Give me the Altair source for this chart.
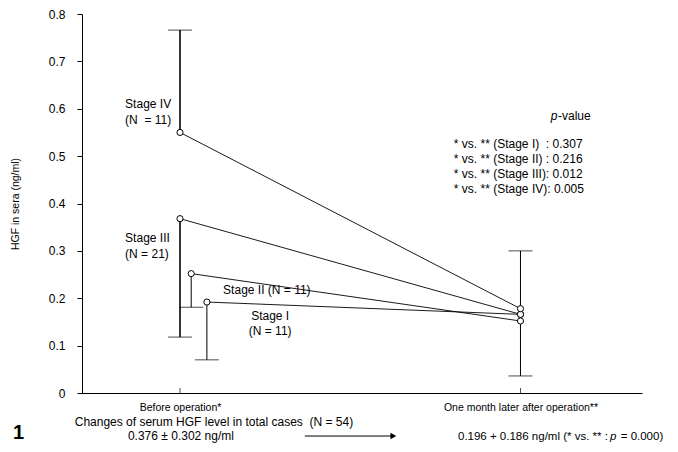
import altair as alt
import pandas as pd

FONT = "Liberation Sans"
NB = "\u00a0"

# ---- data ----
stages = ["Stage I", "Stage II", "Stage III", "Stage IV"]
before_x = [22.3, 19.5, 17.5, 17.5]
before_y = [0.192, 0.252, 0.368, 0.550]
after_x = [78.3, 78.3, 78.3, 78.3]
after_y = [0.166, 0.152, 0.166, 0.178]

# whiskers (vertical error lines)
err_x = [17.5, 17.5, 19.5, 22.3, 78.3]
err_lo = [0.550, 0.118, 0.181, 0.070, 0.036]
err_hi = [0.766, 0.368, 0.252, 0.192, 0.300]
err_w = [1.6, 1.6, 1.0, 1.0, 1.0]
# caps
cap_x = [17.5, 17.5, 19.5, 22.3, 78.3, 78.3]
cap_y = [0.766, 0.118, 0.181, 0.070, 0.036, 0.300]
cap_w = [1.6, 1.6, 1.0, 1.0, 1.0, 1.0]

y_ticks = [0, 0.1, 0.2, 0.3, 0.4, 0.5, 0.6, 0.7, 0.8]
x_ticks = [17.5, 78.3]
x_labels = ["Before operation*", "One month later after operation**"]

# annotation texts (data coordinates)
ann_text = ["Stage IV", "(N" + NB + " = 11)", "Stage III", "(N = 21)", "Stage II (N = 11)"]
ann_x = [7.7, 7.7, 7.7, 7.7, 25.2]
ann_y = [0.609, 0.577, 0.328, 0.294, 0.217]

ann_c_text = ["Stage I", "(N = 11)"]
ann_c_x = [33.6, 33.6]
ann_c_y = [0.162, 0.131]

p_lines = ["* vs. ** (Stage I)" + NB + NB + ": 0.307",
           "* vs. ** (Stage II)" + NB + ": 0.216",
           "* vs. ** (Stage III): 0.012",
           "* vs. ** (Stage IV): 0.005"]
p_x = [66.4, 66.4, 66.4, 66.4]
p_y = [0.525, 0.494, 0.462, 0.431]

# p-value header
head_x = [85.0]
head_y = [0.584]

# bottom notes (alphabetic baseline)
note_text = ["Changes of serum HGF level in total cases" + NB + NB + "(N = 54)",
             "0.376 \u00b1 0.302 ng/ml"]
note_x = [-1.3, 8.2]
note_y = [-0.0697, -0.0992]

note_r_text = ["0.196 + 0.186 ng/ml (* vs. ** :", "= 0.000)"]
note_r_x = [67.14, 96.2]
note_r_y = [-0.0992, -0.0992]
p_bottom_x = [94.3]
p_bottom_y = [-0.0992]

arrow_x1 = [39.8]
arrow_x2 = [55.6]
arrow_y = [-0.0908]

fig_num_x = [-12.3]
fig_num_y = [-0.0971]

# ---- tables ----
lines_df = pd.DataFrame({
    "stage": stages + stages,
    "x": before_x + after_x,
    "y": before_y + after_y,
})
err_df = pd.DataFrame({"x": err_x, "lo": err_lo, "hi": err_hi, "w": err_w})
cap_df = pd.DataFrame({"x": cap_x, "y": cap_y, "w": cap_w})
ann_df = pd.DataFrame({"t": ann_text, "x": ann_x, "y": ann_y})
annc_df = pd.DataFrame({"t": ann_c_text, "x": ann_c_x, "y": ann_c_y})
p_df = pd.DataFrame({"t": p_lines, "x": p_x, "y": p_y})
head_p_df = pd.DataFrame({"t": ["p"], "x": head_x, "y": head_y})
head_v_df = pd.DataFrame({"t": ["-value"], "x": head_x, "y": head_y})
note_df = pd.DataFrame({"t": note_text, "x": note_x, "y": note_y})
note_r_df = pd.DataFrame({"t": note_r_text, "x": note_r_x, "y": note_r_y})
pb_df = pd.DataFrame({"t": ["p"], "x": p_bottom_x, "y": p_bottom_y})
arrow_df = pd.DataFrame({"x": arrow_x1, "x2": arrow_x2, "y": arrow_y})
fig_df = pd.DataFrame({"t": ["1"], "x": fig_num_x, "y": fig_num_y})
xtick_df = pd.DataFrame({"x": x_ticks, "y": [0, 0]})

xs = alt.Scale(domain=[0, 100], nice=False, zero=False)
ys = alt.Scale(domain=[0, 0.8], nice=False)

X = alt.X("x:Q", scale=xs, title=None,
          axis=alt.Axis(values=x_ticks, ticks=False, grid=False,
                        domainColor="black", domainWidth=1,
                        labelExpr="datum.value < 50 ? '" + x_labels[0] + "' : '" + x_labels[1] + "'",
                        labelFont=FONT, labelFontSize=10.5, labelColor="black",
                        labelPadding=9))
Y = alt.Y("y:Q", scale=ys, title="HGF in sera (ng/ml)",
          axis=alt.Axis(values=y_ticks, format=".1~f", grid=False,
                        domainColor="black", tickColor="black", tickSize=5,
                        labelFont=FONT, labelFontSize=12, labelColor="black",
                        labelPadding=12, titleFont=FONT, titleFontSize=10.5,
                        titleFontWeight="normal", titleColor="black",
                        titlePadding=28))

base_lines = alt.Chart(lines_df).mark_line(color="black", strokeWidth=0.9).encode(
    x=X, y=Y, detail="stage:N")

whiskers = alt.Chart(err_df).mark_rule(color="black").encode(
    x="x:Q", y="lo:Q", y2="hi:Q",
    strokeWidth=alt.StrokeWidth("w:Q", scale=None, legend=None))

caps = alt.Chart(cap_df).mark_tick(color="black", orient="horizontal", size=24).encode(
    x="x:Q", y="y:Q",
    strokeWidth=alt.StrokeWidth("w:Q", scale=None, legend=None))

xticks = alt.Chart(xtick_df).mark_tick(color="black", orient="vertical", size=5,
                                       thickness=1, yOffset=-2.5).encode(
    x="x:Q", y="y:Q")

points = alt.Chart(lines_df).mark_point(shape="circle", filled=True, fill="white",
                                        stroke="black", strokeWidth=1, size=38,
                                        opacity=1).encode(x="x:Q", y="y:Q")


def txt(df, align="left", size=12, baseline="middle", **kw):
    return alt.Chart(df).mark_text(align=align, baseline=baseline, font=FONT,
                                   fontSize=size, color="black", **kw).encode(
        x="x:Q", y="y:Q", text="t:N")


ann = txt(ann_df)
annc = txt(annc_df, align="center")
ptext = txt(p_df)
head_v = txt(head_v_df)
head_p = txt(head_p_df, align="right", fontStyle="italic", dx=-0.5)
notes = txt(note_df, size=12, baseline="alphabetic")
notes_r = txt(note_r_df, size=11.5, baseline="alphabetic")
p_bottom = txt(pb_df, size=11.5, baseline="alphabetic", fontStyle="italic")
fig = txt(fig_df, size=20, baseline="alphabetic", fontWeight="bold")

arrow_line = alt.Chart(arrow_df).mark_rule(color="black", strokeWidth=1).encode(
    x="x:Q", x2="x2:Q", y="y:Q")
arrow_head = alt.Chart(arrow_df).mark_point(shape="triangle-right", filled=True,
                                            color="black", size=45, opacity=1).encode(
    x="x2:Q", y="y:Q")

chart = alt.layer(
    base_lines, whiskers, caps, xticks, points, ann, annc, ptext, head_v, head_p,
    notes, notes_r, p_bottom, arrow_line, arrow_head, fig
).properties(
    width=560, height=379,
    autosize=alt.AutoSizeParams(type="none"),
    padding={"left": 74, "top": 6, "right": 28, "bottom": 51},
    background="white",
).configure_view(stroke=None)

chart.save("out.html", embed_options={"renderer": "svg", "actions": False})
